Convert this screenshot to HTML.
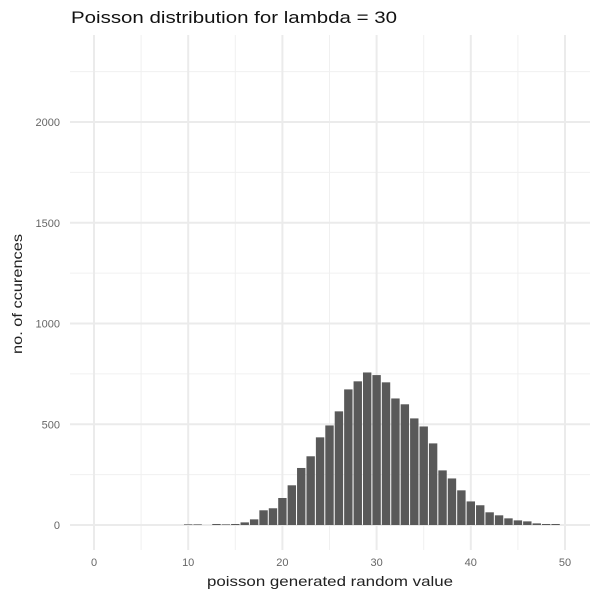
<!DOCTYPE html>
<html><head><meta charset="utf-8"><style>
html,body{margin:0;padding:0;background:#fff;}
svg{display:block;font-family:"Liberation Sans",sans-serif;}
</style></head><body>
<svg id="chart" width="600" height="600">
<text x="71" y="23" font-size="17" fill="#111" textLength="326" lengthAdjust="spacingAndGlyphs">Poisson distribution for lambda = 30</text>
<g id="grid"></g><g id="bars"></g><g id="ticks"></g>
<text x="330" y="586" font-size="14" fill="#222" text-anchor="middle" textLength="246" lengthAdjust="spacingAndGlyphs">poisson generated random value</text>
<text transform="translate(22,294) rotate(-90)" font-size="14" fill="#222" text-anchor="middle" textLength="120" lengthAdjust="spacingAndGlyphs">no. of ccurences</text>
</svg>
<script>
const categories=[10,11,12,13,14,15,16,17,18,19,20,21,22,23,24,25,26,27,28,29,30,31,32,33,34,35,36,37,38,39,40,41,42,43,44,45,46,47,48,49];
const counts=[3,3,0,5,3,5,13,28,73,83,134,197,283,341,435,494,564,673,713,757,744,708,628,599,529,489,405,271,231,172,117,98,63,48,33,23,18,8,5,5];
const xTicks=[0,10,20,30,40,50];
const yTicks=[0,500,1000,1500,2000];
const ns="http://www.w3.org/2000/svg";
const X=v=>94+v*9.42, Y=v=>525-v*0.2015;
const L=70,R=590,T=35,B=550;
function mk(tag,attrs,parent){const e=document.createElementNS(ns,tag);for(const k in attrs)e.setAttribute(k,attrs[k]);parent.appendChild(e);return e;}
const g=document.getElementById('grid'),bg=document.getElementById('bars'),tg=document.getElementById('ticks');
for(let v=250;v<=2250;v+=500){const l=mk('line',{x1:L,x2:R,y1:Y(v),y2:Y(v),stroke:'#f0f0f0','stroke-width':1},g);

}
for(let v=5;v<=45;v+=10){const l=mk('line',{x1:X(v),x2:X(v),y1:T,y2:B,stroke:'#f0f0f0','stroke-width':1},g);

}
yTicks.forEach(v=>{const l=mk('line',{x1:L,x2:R,y1:Y(v),y2:Y(v),stroke:'#ebebeb','stroke-width':2},g);


const t=mk('text',{x:60,y:Y(v)+4,'font-size':11,fill:'#666','text-anchor':'end'},tg);t.textContent=v;

});
xTicks.forEach(v=>{const l=mk('line',{x1:X(v),x2:X(v),y1:T,y2:B,stroke:'#ebebeb','stroke-width':2},g);


const t=mk('text',{x:X(v),y:566,'font-size':11,fill:'#666','text-anchor':'middle'},tg);t.textContent=v;

});
categories.forEach((c,i)=>{const h=counts[i]*0.2015;const r=mk('rect',{x:X(c)-4.2,y:Y(counts[i]),width:8.4,height:Math.max(h,0),fill:'#595959'},bg);

});
</script>
</body></html>
